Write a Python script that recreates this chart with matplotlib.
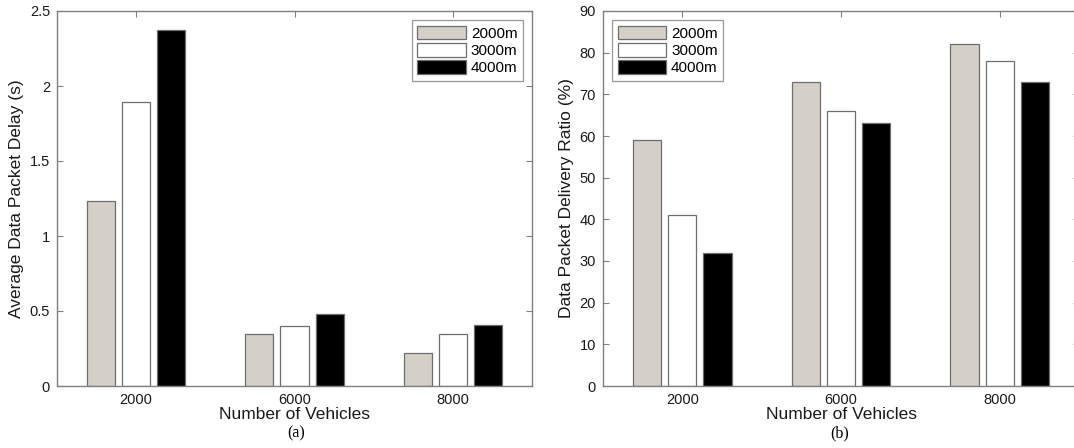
import matplotlib

matplotlib.use("Agg")
import matplotlib.pyplot as plt  # noqa: E402
import numpy as np  # noqa: E402

plt.rcParams["font.family"] = ["Liberation Sans", "DejaVu Sans"]

vehicles = ["2000", "6000", "8000"]
ranges = ["2000m", "3000m", "4000m"]

# average data packet delay (s), one list per transmission range
delay_2000m = [1.23, 0.35, 0.22]
delay_3000m = [1.89, 0.40, 0.35]
delay_4000m = [2.37, 0.48, 0.41]

# data packet delivery ratio (%)
pdr_2000m = [59, 73, 82]
pdr_3000m = [41, 66, 78]
pdr_4000m = [32, 63, 73]

FACES = ["#d4d0c8", "#ffffff", "#000000"]
EDGE = "#6e6e6e"
AXIS_COL = "#808080"


def grouped_bars(ax, series, ylim, yticks, ylabel, legend_loc):
    x = np.arange(1, len(vehicles) + 1)
    group_w = min(0.8, len(series) / (len(series) + 1.5))
    bar_w = group_w / len(series) * 0.8
    step = group_w / len(series)
    for k, vals in enumerate(series):
        offs = (k - (len(series) - 1) / 2) * step
        ax.bar(x + offs, vals, width=bar_w, color=FACES[k], edgecolor=EDGE,
               linewidth=0.9, label=ranges[k], zorder=2)
    ax.set_xlim(0.5, 3.5)
    ax.set_ylim(*ylim)
    ax.set_xticks(x)
    ax.set_xticklabels(vehicles)
    ax.set_yticks(yticks)
    ax.set_yticklabels([f"{t:g}" for t in yticks])
    for sp in ax.spines.values():
        sp.set_color(AXIS_COL)
        sp.set_linewidth(1.0)
        sp.set_zorder(3)
    ax.tick_params(direction="in", length=4, width=0.8, color=AXIS_COL,
                   top=True, right=True, labelsize=10.5, pad=5, labelcolor="#1a1a1a")
    ax.set_xlabel("Number of Vehicles", fontsize=12.5, labelpad=0, color="#1a1a1a")
    ax.set_ylabel(ylabel, fontsize=12.5, labelpad=4, color="#1a1a1a")
    leg = ax.legend(loc=legend_loc, fontsize=11, frameon=True, fancybox=False,
                    handlelength=3.2, handleheight=1.0, handletextpad=0.3,
                    labelspacing=0.15, borderpad=0.35, borderaxespad=0.6)
    leg.get_frame().set_edgecolor(AXIS_COL)
    leg.get_frame().set_linewidth(0.9)


fig = plt.figure(figsize=(10.74, 4.48), dpi=100)
ax_a = fig.add_axes([57 / 1074, 62 / 448, 475 / 1074, 375 / 448])
# right-hand panel runs just past the figure edge
ax_b = fig.add_axes([603 / 1074, 62 / 448, 476 / 1074, 375 / 448])

grouped_bars(ax_a, [delay_2000m, delay_3000m, delay_4000m], (0, 2.5),
             np.arange(0, 2.51, 0.5), "Average Data Packet Delay (s)", "upper right")
grouped_bars(ax_b, [pdr_2000m, pdr_3000m, pdr_4000m], (0, 90),
             np.arange(0, 91, 10), "Data Packet Delivery Ratio (%)", "upper left")

fig.text(296 / 1074, 1 - 433 / 448, "(a)", ha="center", va="center",
         fontsize=11.5, family="Liberation Serif")
fig.text(840 / 1074, 1 - 433 / 448, "(b)", ha="center", va="center",
         fontsize=11.5, family="Liberation Serif")

fig.savefig("out.png", dpi=100)
